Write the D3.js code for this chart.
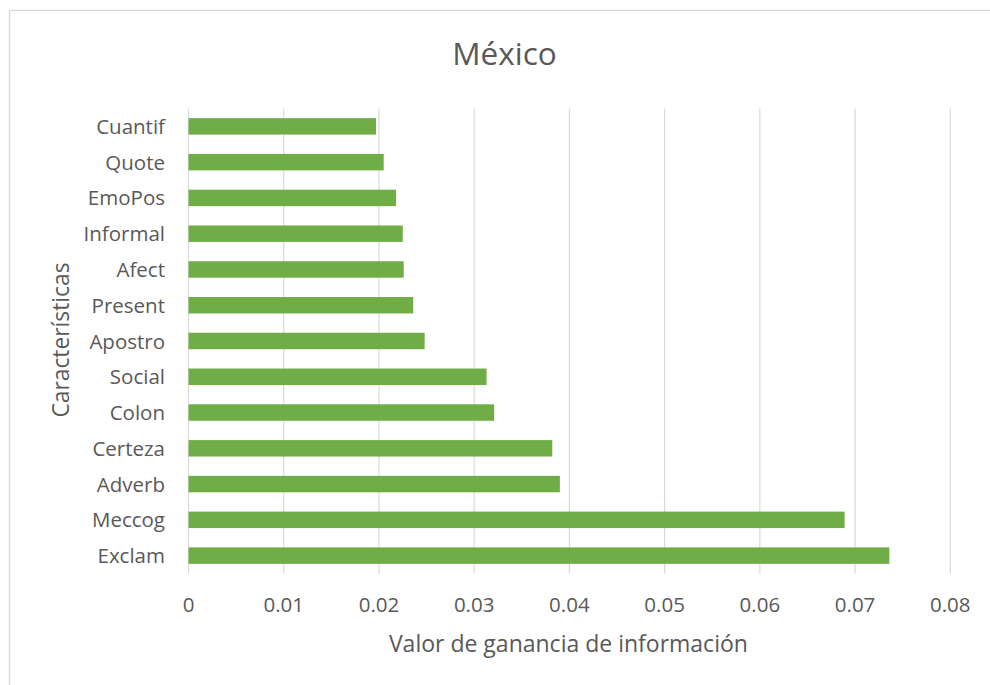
<!DOCTYPE html>
<html>
<head>
<meta charset="utf-8">
<script src="https://cdn.jsdelivr.net/npm/d3@7"></script>
<style>
  html, body { margin: 0; padding: 0; background: #fff; }
  svg { display: block; }
  text { font-family: "Open Sans", "Noto Sans", sans-serif; fill: #595959; }
</style>
</head>
<body>
<svg id="chart" width="990" height="685"></svg>
<script>
// Information gain per feature, top to bottom
const categories = ["Cuantif", "Quote", "EmoPos", "Informal", "Afect", "Present", "Apostro",
                    "Social", "Colon", "Certeza", "Adverb", "Meccog", "Exclam"];
const values = [0.0197, 0.0205, 0.0218, 0.0225, 0.0226, 0.0236, 0.0248,
                0.0313, 0.0321, 0.0382, 0.0390, 0.0689, 0.0736];
const xTicks = [0, 0.01, 0.02, 0.03, 0.04, 0.05, 0.06, 0.07, 0.08];
const tickLabels = ["0", "0.01", "0.02", "0.03", "0.04", "0.05", "0.06", "0.07", "0.08"];

const title = "México";
const xTitle = "Valor de ganancia de información";
const yTitle = "Características";

const svg = d3.select("#chart");

// chart frame
svg.append("rect")
  .attr("x", 9.5).attr("y", 10.5)
  .attr("width", 1000).attr("height", 1000)
  .attr("fill", "#fff")
  .attr("stroke", "#d9d9d9")
  .attr("stroke-width", 1.3);

const plot = { left: 188.5, right: 950.3, top: 108.5, bottom: 573.5 };

const x = d3.scaleLinear().domain([0, 0.08]).range([plot.left, plot.right]);
const y = d3.scaleBand().domain(categories).range([plot.top, plot.bottom]).paddingInner(0.54).paddingOuter(0.27);

// vertical gridlines
svg.append("g")
  .selectAll("line")
  .data(xTicks)
  .join("line")
  .attr("x1", d => x(d)).attr("x2", d => x(d))
  .attr("y1", plot.top).attr("y2", plot.bottom)
  .attr("stroke", "#d9d9d9")
  .attr("stroke-width", 1.2);

// bars
svg.append("g")
  .selectAll("rect")
  .data(categories)
  .join("rect")
  .attr("x", x(0))
  .attr("y", d => y(d))
  .attr("width", (d, i) => x(values[i]) - x(0))
  .attr("height", y.bandwidth())
  .attr("fill", "#70ad47");

// x tick labels
svg.append("g")
  .selectAll("text")
  .data(xTicks)
  .join("text")
  .attr("x", d => x(d))
  .attr("y", 612)
  .attr("text-anchor", "middle")
  .attr("font-size", 20.5)
  .text((d, i) => tickLabels[i]);

// category labels
svg.append("g")
  .selectAll("text")
  .data(categories)
  .join("text")
  .attr("x", 165)
  .attr("y", d => y(d) + y.bandwidth() / 2 + 7.5)
  .attr("text-anchor", "end")
  .attr("font-size", 20.5)
  .text(d => d);

// title
svg.append("text")
  .attr("x", 504.5).attr("y", 65)
  .attr("text-anchor", "middle")
  .attr("font-size", 31.5)
  .text(title);

// axis titles
svg.append("text")
  .attr("x", (plot.left + plot.right) / 2 - 1).attr("y", 652)
  .attr("text-anchor", "middle")
  .attr("font-size", 23)
  .text(xTitle);

svg.append("text")
  .attr("transform", "translate(69,340) rotate(-90)")
  .attr("text-anchor", "middle")
  .attr("font-size", 22.8)
  .text(yTitle);
</script>
</body>
</html>
